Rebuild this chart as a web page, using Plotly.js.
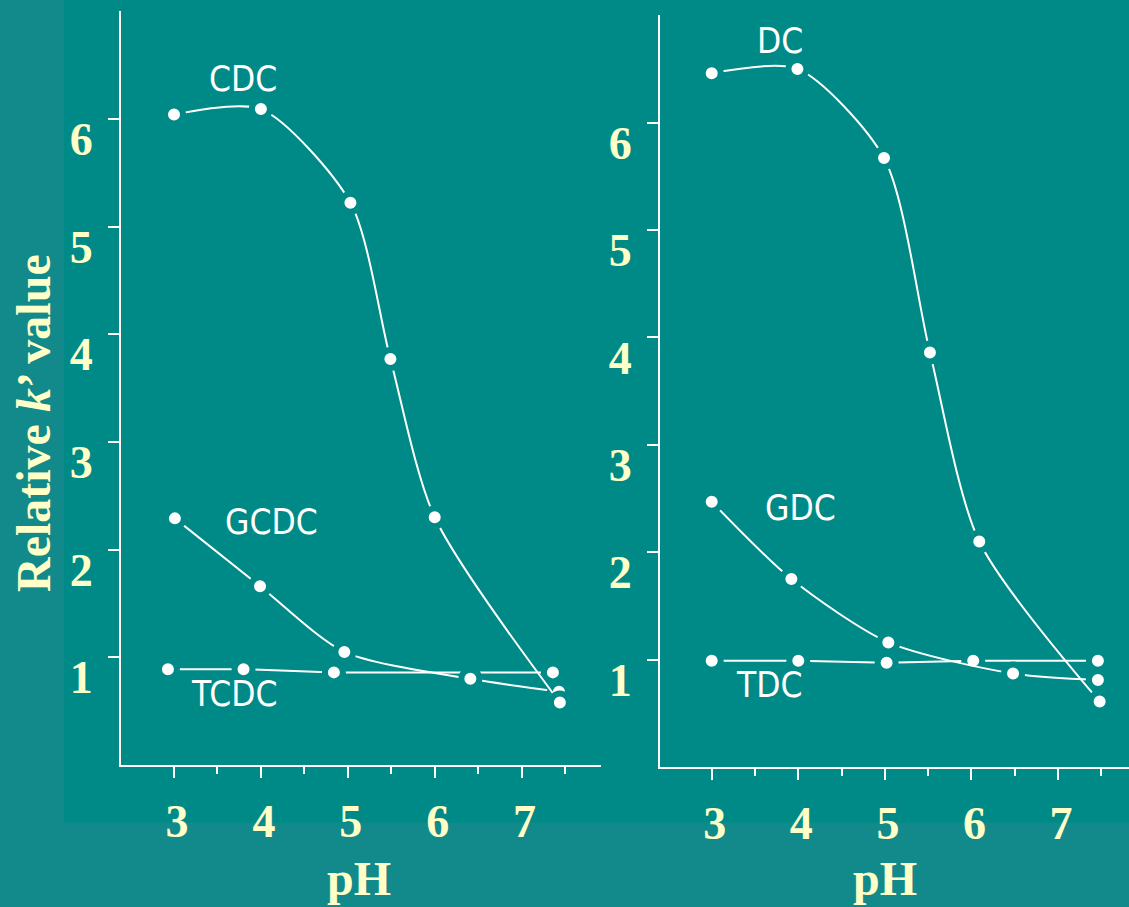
<!DOCTYPE html>
<html><head><meta charset="utf-8">
<script src="https://cdn.plot.ly/plotly-3.0.1.min.js"></script>
<style>html,body{margin:0;padding:0;background:#128A8C;}#chart{width:1129px;height:907px;}</style>
</head><body><div id="chart"></div>
<script>
// ---- data ----
const cdcX=[3.0,4.0,5.03,5.49,6.0,7.44];
const cdcY=[6.04,6.09,5.22,3.77,2.30,0.58];
const gcdcX=[3.01,3.99,4.96,6.41,7.43];
const gcdcY=[2.29,1.66,1.05,0.80,0.68];
const tcdcX=[2.93,3.80,4.84,7.36];
const tcdcY=[0.89,0.89,0.86,0.86];
const dcX=[3.0,3.99,4.99,5.52,6.09,7.48];
const dcY=[6.46,6.50,5.67,3.86,2.10,0.61];
const gdcX=[3.0,3.92,5.04,6.48,7.46];
const gdcY=[2.47,1.75,1.16,0.87,0.81];
const tdcX=[3.0,4.0,5.02,6.02,7.46];
const tdcY=[0.99,0.99,0.97,0.99,0.99];
const xTickVals=[3,4,5,6,7];
const xTickText=['3','4','5','6','7'];
const xMinorVals=[3.5,4.5,5.5,6.5,7.5];
const yTickVals=[1,2,3,4,5,6];
const yTickText=['1','2','3','4','5','6'];
const seriesNames=['CDC','GCDC','TCDC','DC','GDC','TDC'];
const xTitle='pH';
const yTitle='Relative <i>k</i>’ value';

// ---- styling ----
const inner='#008A87', outer='#128A8C', cream='#FFFFC8';
const serif='"Liberation Serif","Times New Roman",serif';
const narrow='"Liberation Sans Narrow","DejaVu Sans Condensed","Liberation Sans",sans-serif';
const tickFont={family:serif,size:46,color:cream,weight:'bold'};
const W=1129,H=907;

function tr(x,y,shape,xa,ya,name){
  return {x:x,y:y,name:name,xaxis:xa,yaxis:ya,type:'scatter',mode:'lines+markers',
    line:{color:'white',width:2,shape:shape,smoothing:0.75},
    marker:{color:'white',size:18,line:{color:inner,width:6}},
    cliponaxis:false,hoverinfo:'x+y'};
}
const data=[
  tr(tcdcX,tcdcY,'linear','x','y',seriesNames[2]),
  tr(gcdcX,gcdcY,'spline','x','y',seriesNames[1]),
  tr(cdcX,cdcY,'spline','x','y',seriesNames[0]),
  tr(tdcX,tdcY,'linear','x2','y2',seriesNames[5]),
  tr(gdcX,gdcY,'spline','x2','y2',seriesNames[4]),
  tr(dcX,dcY,'spline','x2','y2',seriesNames[3])
];

function xax(domain,range,anchor){
  return {domain:domain,range:range,anchor:anchor,fixedrange:true,showgrid:false,zeroline:false,
    showline:true,linecolor:'white',linewidth:2,ticks:'outside',ticklen:11,tickwidth:2,tickcolor:'white',
    tickmode:'array',tickvals:xTickVals,ticktext:xTickText,tickfont:tickFont,
    ticklabelstandoff:4,ticklabelshift:3,
    minor:{tickmode:'array',tickvals:xMinorVals,ticks:'outside',ticklen:7,tickwidth:2,tickcolor:'white',showgrid:false}};
}
function yax(domain,anchor){
  return {domain:domain,range:[0,7],anchor:anchor,fixedrange:true,showgrid:false,zeroline:false,
    showline:true,linecolor:'white',linewidth:2,ticks:'outside',ticklen:11,tickwidth:2,tickcolor:'white',
    tickmode:'array',tickvals:yTickVals,ticktext:yTickText,tickfont:tickFont,
    ticklabelstandoff:6,ticklabelshift:20};
}

const lab=(t,x,y,xr,yr)=>({text:t,x:x,y:y,xref:xr,yref:yr,showarrow:false,
  font:{family:narrow,size:35,color:'white'},xanchor:'center',yanchor:'middle'});

const layout={
  width:W,height:H,margin:{l:0,r:0,t:0,b:0},
  paper_bgcolor:outer,plot_bgcolor:'rgba(0,0,0,0)',showlegend:false,
  xaxis:xax([121/W,600.7/W],[2.39,7.91],'y'),
  yaxis:yax([(H-765)/H,(H-11.1)/H],'x'),
  xaxis2:xax([660/W,1],[2.403,7.819],'y2'),
  yaxis2:yax([(H-767)/H,(H-15.2)/H],'x2'),
  shapes:[{type:'rect',xref:'paper',yref:'paper',x0:64/W,x1:1,y0:(H-822.7)/H,y1:1,
    fillcolor:inner,line:{width:0},layer:'below'}],
  annotations:[
    lab(seriesNames[0],3.79,6.37,'x','y'),
    lab(seriesNames[1],4.12,2.26,'x','y'),
    lab(seriesNames[2],3.69,0.66,'x','y'),
    lab(seriesNames[3],3.79,6.76,'x2','y2'),
    lab(seriesNames[4],4.02,2.41,'x2','y2'),
    lab(seriesNames[5],3.66,0.76,'x2','y2'),
    {text:yTitle,x:33/W,y:(H-423)/H,xref:'paper',yref:'paper',showarrow:false,textangle:-90,
      font:{family:serif,size:48,color:cream,weight:'bold'},xanchor:'center',yanchor:'middle'},
    {text:xTitle,x:359/W,y:(H-878)/H,xref:'paper',yref:'paper',showarrow:false,
      font:{family:serif,size:48,color:cream,weight:'bold'},xanchor:'center',yanchor:'middle'},
    {text:xTitle,x:885/W,y:(H-878)/H,xref:'paper',yref:'paper',showarrow:false,
      font:{family:serif,size:48,color:cream,weight:'bold'},xanchor:'center',yanchor:'middle'}
  ]
};
Plotly.newPlot('chart',data,layout,{staticPlot:true,displayModeBar:false});
</script></body></html>
